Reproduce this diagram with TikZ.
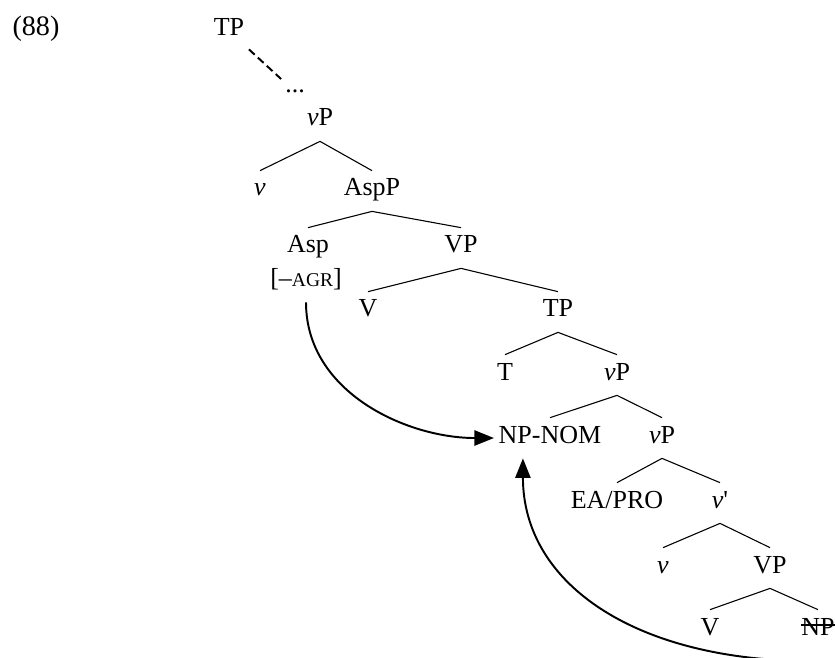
\documentclass[tikz,border=0pt]{standalone}
\usepackage{fontspec}
\setmainfont{Liberation Serif}
\usetikzlibrary{arrows.meta}

\tikzset{
    tree/.style={anchor=base, inner xsep=2pt, inner ysep=2pt,
        text height=9.5pt, text depth=4.9pt},
    branch/.style={line width=0.5pt},
    move/.style={line width=0.9pt, -{Triangle[length=9pt, width=7pt]}},
    strike/.style={line width=0.7pt},
}

\begin{document}
\begin{tikzpicture}[x=0.4615pt, y=-0.4615pt, font=\fontsize{12}{14}\selectfont]
    \useasboundingbox (0, 0) rectangle (835, 658);
    \clip (0, 0) rectangle (835, 658);

    \node (ex) [anchor=base, font=\fontsize{13}{15}\selectfont] at (36, 36) {(88)};

    \node (tp1) [tree] at (229, 36) {TP};
    \node (dots) [anchor=base, inner sep=5pt] at (295, 93) {...};
    \node (vp1) [tree] at (320, 126) {\textit{v}P};
    \node (v1) [tree] at (260, 196) {\textit{v}};
    \node (aspp) [tree] at (372, 196) {AspP};
    \node (asp) [tree] at (308, 253) {Asp};
    \node (agr) [tree] at (306, 287) {[\textendash{\fontsize{9}{10}\selectfont AGR}]};
    \node (vp2) [tree] at (461, 253) {VP};
    \node (v2) [tree] at (368, 317) {V};
    \node (tp2) [tree] at (558, 317) {TP};
    \node (t) [tree] at (505, 380) {T};
    \node (vp3) [tree] at (617, 380) {\textit{v}P};
    \node (npnom) [tree] at (550, 443) {NP-NOM};
    \node (vp4) [tree] at (662, 443) {\textit{v}P};
    \node (eapro) [tree] at (617, 508) {EA/PRO};
    \node (vbar) [tree] at (720, 508) {\textit{v}\textquotesingle};
    \node (v3) [tree] at (663, 573) {\textit{v}};
    \node (vp5) [tree] at (770, 573) {VP};
    \node (v4) [tree] at (710, 635) {V};
    \node (np) [tree] at (818, 635) {NP};
    \coordinate (npfoot) at (815, 661);

    % tree branches
    \draw [line width=0.9pt, dash pattern=on 3.6pt off 2pt] (tp1) -- (dots);
    \draw [branch] (vp1.south) edge (v1.north) edge (aspp.north);
    \draw [branch] (aspp.south) edge (asp.north) edge (vp2.north);
    \draw [branch] (vp2.south) edge (v2.north) edge (tp2.north);
    \draw [branch] (tp2.south) edge (t.north) edge (vp3.north);
    \draw [branch] (vp3.south) edge (npnom.north) edge (vp4.north);
    \draw [branch] (vp4.south) edge (eapro.north) edge (vbar.north);
    \draw [branch] (vbar.south) edge (v3.north) edge (vp5.north);
    \draw [branch] (vp5.south) edge (v4.north) edge (np.north);

    % deleted copy
    \draw [strike] ([xshift=2pt, yshift=4.6pt]np.base west) -- ([xshift=-2pt, yshift=4.6pt]np.base east);

    % agreement and movement
    \draw [move] (agr.south) .. controls +(0, 90) and +(-87, 0) .. (npnom.west);
    \draw [move] (npfoot) .. controls +(-175, 1) and +(0, 128) .. ([xshift=-12.5pt]npnom.south);
\end{tikzpicture}
\end{document}
